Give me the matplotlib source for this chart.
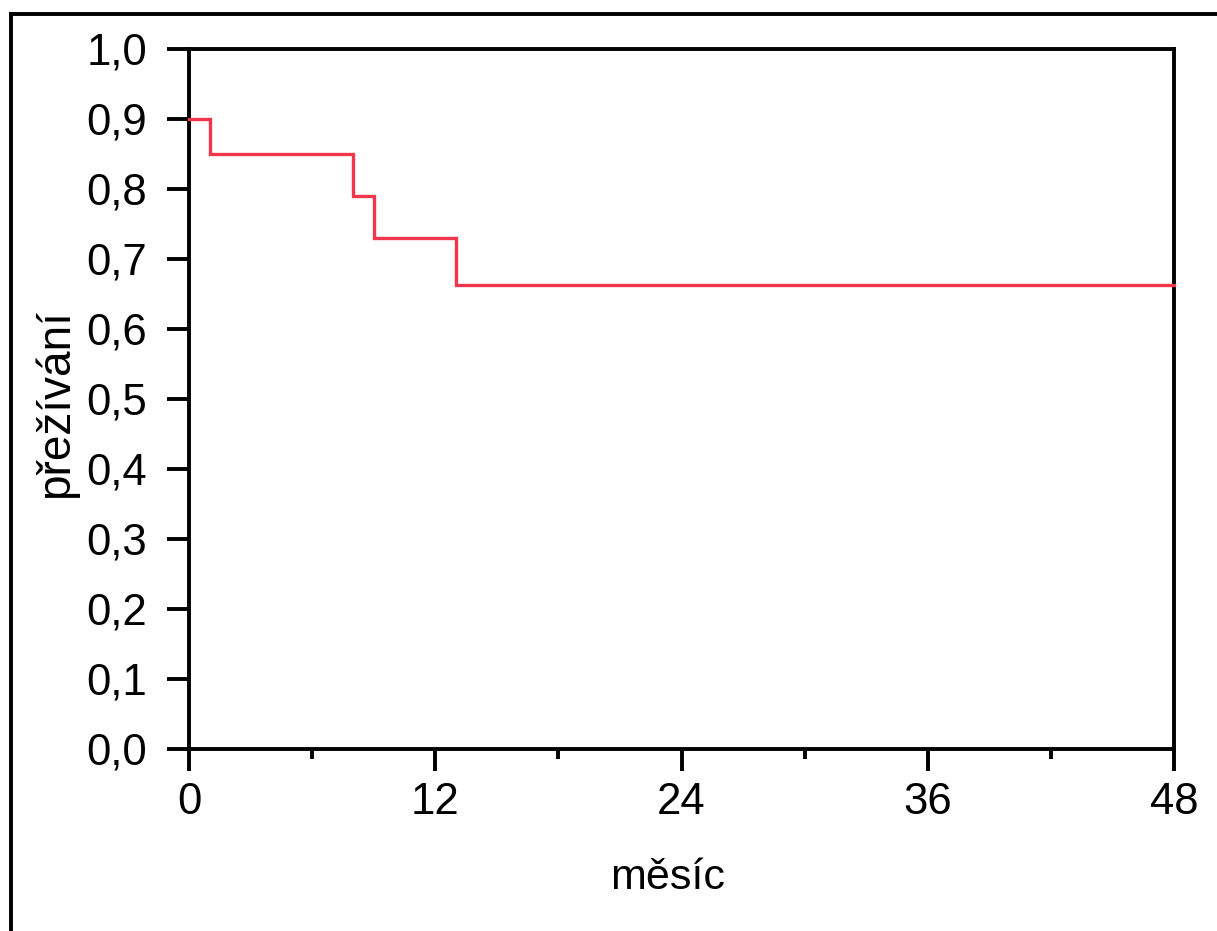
import matplotlib
matplotlib.use("Agg")
import matplotlib.pyplot as plt
from matplotlib.lines import Line2D
from matplotlib.ticker import FixedLocator

plt.rcParams['font.family'] = ['Liberation Sans', 'DejaVu Sans']

# Kaplan-Meier style survival steps
event_months = [0, 1, 8, 9, 13, 48]
survival = [0.90, 0.85, 0.79, 0.73, 0.663, 0.663]

x_ticks = [0, 12, 24, 36, 48]
x_minor = [6, 18, 30, 42]
y_ticks = [0.0, 0.1, 0.2, 0.3, 0.4, 0.5, 0.6, 0.7, 0.8, 0.9, 1.0]
y_labels = ['0,0', '0,1', '0,2', '0,3', '0,4', '0,5', '0,6', '0,7', '0,8', '0,9', '1,0']

W, H = 1217, 931
LW = 2.8
fig = plt.figure(figsize=(W / 100, H / 100), dpi=100)
ax = fig.add_axes([189 / W, 1 - 749 / H, (1174 - 189) / W, (749 - 48.5) / H])

ax.step(event_months, survival, where='post', color='#F0364A', lw=2.4,
        solid_joinstyle='miter', clip_on=False, zorder=3)

ax.set_xlim(0, 48)
ax.set_ylim(0, 1.0)
ax.set_xticks(x_ticks)
ax.set_xticklabels([str(v) for v in x_ticks])
ax.xaxis.set_minor_locator(FixedLocator(x_minor))
ax.set_yticks(y_ticks)
ax.set_yticklabels(y_labels)

for sp in ax.spines.values():
    sp.set_linewidth(LW)
    sp.set_color('black')

ax.tick_params(axis='both', which='major', direction='out', length=16, width=LW,
               labelsize=31.5, colors='black')
ax.tick_params(axis='x', which='major', pad=8)
ax.tick_params(axis='y', which='major', pad=14)
ax.tick_params(axis='x', which='minor', direction='out', length=7, width=LW)

ax.set_xlabel('měsíc', fontsize=31, va='center')
ax.xaxis.set_label_coords(0.486, -0.184)
ax.set_ylabel('přežívání', fontsize=33, va='center')
ax.yaxis.set_label_coords(-0.135, 0.493)

# Outer frame lines along the top and left edges
fig.add_artist(Line2D([10.5 / W, 1.0], [1 - 14 / H, 1 - 14 / H], color='black', lw=LW,
                      transform=fig.transFigure, solid_capstyle='projecting'))
fig.add_artist(Line2D([10.5 / W, 10.5 / W], [1 - 14 / H, 0.0], color='black', lw=LW,
                      transform=fig.transFigure, solid_capstyle='projecting'))

fig.savefig('out.png', dpi=100)
